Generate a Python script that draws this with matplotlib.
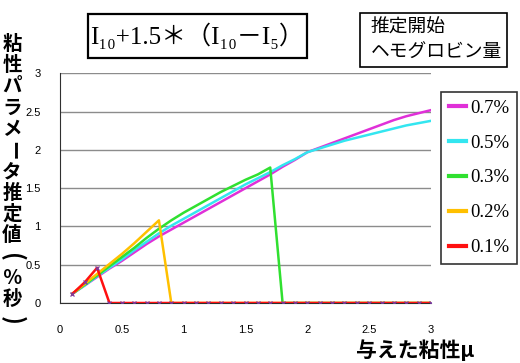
import matplotlib.pyplot as plt
from matplotlib.patches import Rectangle
import numpy as np

# 与えた粘性 mu (0.1 刻み)
mu = np.round(np.arange(1, 31) * 0.1, 1)

# 推定開始ヘモグロビン量ごとの粘性パラメータ推定値
hb07 = [0.12, 0.23, 0.34, 0.45, 0.55, 0.66, 0.77, 0.87, 0.96, 1.05,
        1.14, 1.23, 1.32, 1.41, 1.50, 1.59, 1.68, 1.78, 1.87, 1.97,
        2.03, 2.09, 2.15, 2.21, 2.27, 2.33, 2.39, 2.44, 2.48, 2.52]
hb05 = [0.12, 0.23, 0.35, 0.46, 0.57, 0.69, 0.80, 0.91, 1.01, 1.10,
        1.19, 1.28, 1.37, 1.46, 1.55, 1.63, 1.71, 1.80, 1.88, 1.97,
        2.02, 2.07, 2.12, 2.16, 2.20, 2.24, 2.28, 2.32, 2.35, 2.38]
hb03 = [0.12, 0.24, 0.36, 0.48, 0.60, 0.72, 0.85, 0.97, 1.08, 1.18,
        1.27, 1.36, 1.45, 1.53, 1.61, 1.68, 1.77, 0, 0, 0,
        0, 0, 0, 0, 0, 0, 0, 0, 0, 0]
hb02 = [0.12, 0.25, 0.38, 0.51, 0.64, 0.78, 0.93, 1.08, 0, 0,
        0, 0, 0, 0, 0, 0, 0, 0, 0, 0,
        0, 0, 0, 0, 0, 0, 0, 0, 0, 0]
hb01 = [0.12, 0.27, 0.46, 0, 0, 0, 0, 0, 0, 0,
        0, 0, 0, 0, 0, 0, 0, 0, 0, 0,
        0, 0, 0, 0, 0, 0, 0, 0, 0, 0]

series = [('0.7%', hb07, '#e030d8'),
          ('0.5%', hb05, '#33e6f0'),
          ('0.3%', hb03, '#30e030'),
          ('0.2%', hb02, '#ffc000'),
          ('0.1%', hb01, '#ff1010')]

jp = ['Noto Sans CJK JP', 'DejaVu Sans']
serif = ['Liberation Serif', 'DejaVu Serif', 'Noto Sans CJK JP']

W, H = 520, 363
fig = plt.figure(figsize=(W / 100, H / 100), dpi=100)
ax = fig.add_axes([60 / W, 1 - 303 / H, 371 / W, 230 / H])

for name, vals, col in series:
    if name == '0.1%':
        ax.plot(mu, vals, color=col, lw=1.8, label=name, marker='x', ms=3,
                mec='#7a3aa0', mew=0.9, zorder=5)
    else:
        ax.plot(mu, vals, color=col, lw=1.8, label=name)

ax.set_xlim(0, 3)
ax.set_ylim(0, 3.005)
ax.set_xticks(np.arange(0, 3.01, 0.5))
ax.set_yticks(np.arange(0, 3.01, 0.5))
ax.set_xticklabels(['0', '0.5', '1', '1.5', '2', '2.5', '3'])
ax.set_yticklabels(['0', '0.5', '1', '1.5', '2', '2.5', '3'])
ax.grid(axis='y', color='#8c8c8c', lw=1)
ax.set_axisbelow(True)
for s in ['top', 'right']:
    ax.spines[s].set_visible(False)
ax.spines['left'].set_color('#303030')
ax.spines['bottom'].set_color('#303030')
ax.tick_params(axis='both', length=0, labelsize=8)
ax.tick_params(axis='y', pad=14)
ax.tick_params(axis='x', pad=16)
for t in ax.get_xticklabels() + ax.get_yticklabels():
    t.set_family('Liberation Sans')

leg = ax.legend(loc='upper left', bbox_to_anchor=(441 / W, 1 - 92 / H),
                bbox_transform=fig.transFigure, frameon=True, fancybox=False,
                edgecolor='black', prop={'family': serif, 'size': 13.5},
                handlelength=0.95, handletextpad=0.2, labelspacing=0.95,
                borderpad=0.4, borderaxespad=0)
leg.get_frame().set_linewidth(1.2)
for ln in leg.get_lines():
    ln.set_linewidth(3)
    ln.set_marker('')

# 縦書きの y ラベル
ylab = '粘性パラメータ推定値(％秒)'
for i, ch in enumerate(ylab):
    big = ch in '()'
    fig.text(12 / W, 1 - (44 + 21.3 * i) / H, ch, ha='center', va='center',
             fontsize=17 if big else 14, fontweight='bold', family=jp,
             rotation=-90 if ch in 'ー()' else 0)

fig.text(415 / W, 1 - 350 / H, '与えた粘性μ', ha='center', va='center',
         fontsize=15, fontweight='bold', family=jp)

# タイトルの枠
fig.add_artist(Rectangle((88 / W, 1 - 58 / H), 219 / W, 44 / H, fill=False,
                         ec='black', lw=1.6, transform=fig.transFigure))
fig.text(197 / W, 1 - 36 / H, 'I₁₀+1.5＊（I₁₀－I₅）', ha='center', va='center',
         fontsize=18, family=serif)

fig.add_artist(Rectangle((360 / W, 1 - 67 / H), 147 / W, 54 / H, fill=False,
                         ec='black', lw=1.2, transform=fig.transFigure))
fig.text(371 / W, 1 - 40 / H, '推定開始\nヘモグロビン量', ha='left', va='center',
         fontsize=13.5, family=jp, linespacing=1.25)

fig.savefig('out.png', dpi=100)
